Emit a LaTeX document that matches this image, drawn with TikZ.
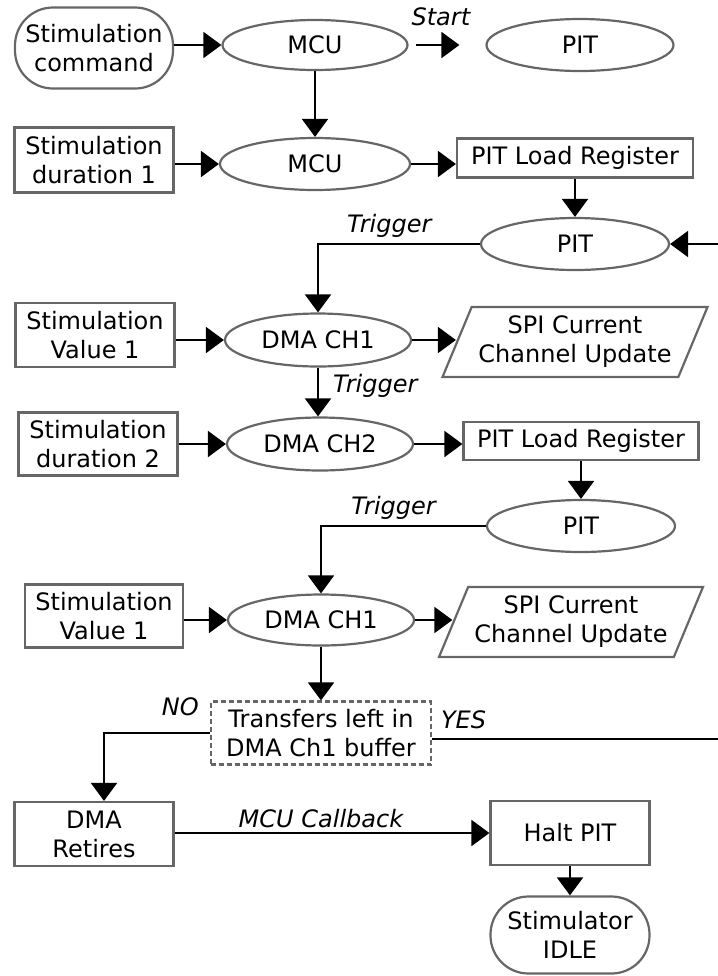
\documentclass[tikz,border=0pt]{standalone}
\usepackage{fontspec}
\setmainfont{DejaVu Sans}
\usetikzlibrary{arrows.meta,shapes.geometric}

\begin{document}
\begin{tikzpicture}[x=0.5pt,y=-0.5pt,
		font=\fontsize{12}{14.5}\selectfont,
		box/.style={draw=black!60,line width=1.1pt,align=center,inner sep=2pt},
		term/.style={box,rounded corners=19pt},
		unit/.style={box,ellipse},
		io/.style={box,trapezium,trapezium left angle=64,trapezium right angle=116,trapezium stretches body},
		flow/.style={-{Triangle[length=9pt,width=13pt]},line width=1pt},
		lbl/.style={font=\fontsize{12}{14.5}\selectfont\itshape,inner sep=1pt,anchor=base}]
			\useasboundingbox (0,0) rectangle (718,976);
			% start of a stimulation
			\node[term,minimum width=79pt,minimum height=40.5pt] (cmd) at (94,48) {Stimulation\\command};
			\node[unit,minimum width=92.5pt,minimum height=25pt] (mcuA) at (315,45) {MCU};
			\node[unit,minimum width=93.5pt,minimum height=26pt] (pitA) at (580,45) {PIT};
			\node[box,minimum width=79.5pt,minimum height=32.5pt] (durA) at (94,160) {Stimulation\\duration 1};
			\node[unit,minimum width=95pt,minimum height=26pt] (mcuB) at (315,164) {MCU};
			\node[box,minimum width=118pt,minimum height=19.5pt] (loadA) at (575,158) {PIT Load Register};
			\node[unit,minimum width=94pt,minimum height=26pt] (pitB) at (575,244) {PIT};
			% first DMA pass
			\node[box,minimum width=79.5pt,minimum height=32pt] (valA) at (95,335) {Stimulation\\Value 1};
			\node[unit,minimum width=93pt,minimum height=26.5pt] (dmaA) at (318,340) {DMA CH1};
			\node[io,minimum width=132.5pt,minimum height=35pt] (spiA) at (575,342) {SPI Current\\Channel Update};
			\node[box,minimum width=79.5pt,minimum height=31.5pt] (durB) at (98,444) {Stimulation\\duration 2};
			\node[unit,minimum width=93pt,minimum height=26.5pt] (dmaB) at (320,444) {DMA CH2};
			\node[box,minimum width=117.5pt,minimum height=19pt] (loadB) at (581,441) {PIT Load Register};
			\node[unit,minimum width=94pt,minimum height=26pt] (pitC) at (581,526) {PIT};
			% second DMA pass
			\node[box,minimum width=79pt,minimum height=31.5pt] (valB) at (104,616) {Stimulation\\Value 1};
			\node[unit,minimum width=93pt,minimum height=25.5pt] (dmaC) at (321,620) {DMA CH1};
			\node[io,minimum width=132pt,minimum height=35pt] (spiB) at (571,622) {SPI Current\\Channel Update};
			\node[box,dashed,dash pattern=on 2.5pt off 1.5pt,minimum width=110pt,minimum height=31.5pt] (left) at (321,733) {Transfers left in\\DMA Ch1 buffer};
			% end of the stimulation
			\node[box,minimum width=79.5pt,minimum height=32pt] (retire) at (94,834) {DMA\\Retires};
			\node[box,minimum width=79.5pt,minimum height=32pt] (halt) at (570,833) {Halt PIT};
			\node[term,minimum width=79.5pt,minimum height=38.5pt] (idle) at (570,935) {Stimulator\\IDLE};
			\coordinate (loopIn) at (718,244);
			\coordinate (loopOut) at (718,739);

			\draw[flow] (cmd.east |- mcuA.west) -- (mcuA.west);
			\draw[flow,shorten <=3.5pt,shorten >=13pt] (mcuA.east) -- (pitA.west)
				node[lbl,pos=0.42,yshift=10pt] {Start};
			\draw[flow] (mcuA.south) -- (mcuB.north);
			\draw[flow] (durA.east |- mcuB.west) -- (mcuB.west);
			\draw[flow] (mcuB.east) -- (mcuB.east -| loadA.west);
			\draw[flow] (loadA.south) -- (pitB.north);
			\draw[flow] (loopIn) -- (pitB.east);
			\draw[flow] (pitB.west) -| (dmaA.north)
				node[lbl,pos=0.28,yshift=6pt] {Trigger};
			\draw[flow] (valA.east |- dmaA.west) -- (dmaA.west);
			\draw[flow] (dmaA.east) -- (dmaA.east -| spiA.west);
			\draw[flow] (dmaA.south) -- (dmaA.south |- dmaB.north)
				node[lbl,anchor=base west,pos=0.5,xshift=6pt] {Trigger};
			\draw[flow] (durB.east |- dmaB.west) -- (dmaB.west);
			\draw[flow] (dmaB.east) -- (dmaB.east -| loadB.west);
			\draw[flow] (loadB.south) -- (pitC.north);
			\draw[flow] (pitC.west) -| (dmaC.north)
				node[lbl,pos=0.28,yshift=6pt] {Trigger};
			\draw[flow] (valB.east |- dmaC.west) -- (dmaC.west);
			\draw[flow] (dmaC.east) -- (dmaC.east -| spiB.west);
			\draw[flow] (dmaC.south) -- (left.north);
			\draw[flow] (left.west) -| ([xshift=5pt]retire.north)
				node[lbl,pos=0.14,yshift=9pt] {NO};
			\draw[line width=1pt] (loopOut -| left.east) -- (loopOut)
				node[lbl,pos=0.11,yshift=5.5pt] {YES};
			\draw[flow] (retire.east |- halt.west) -- (halt.west)
				node[lbl,pos=0.465,yshift=3pt] {MCU Callback};
			\draw[flow] (halt.south) -- (idle.north);
\end{tikzpicture}
\end{document}
